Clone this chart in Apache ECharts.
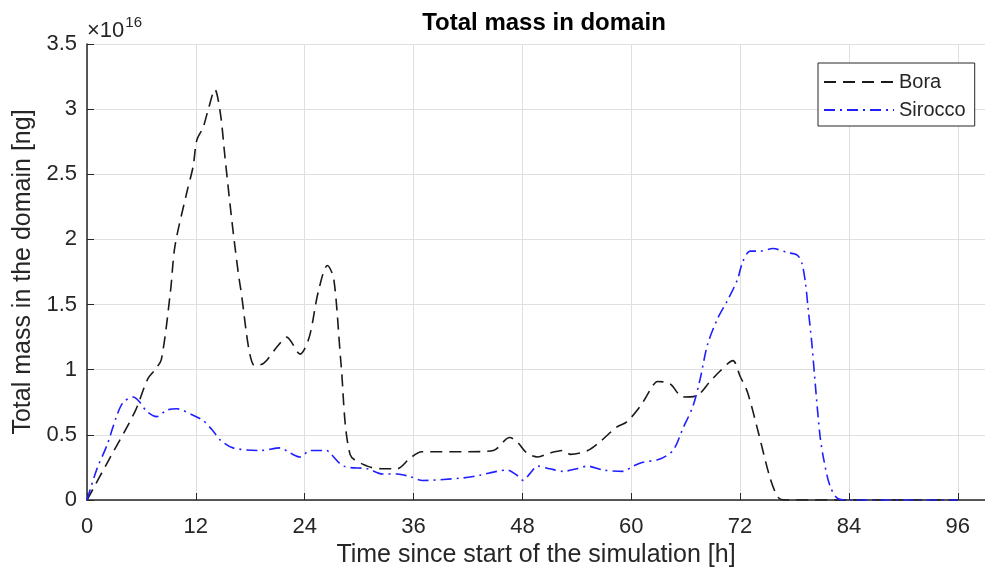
<!DOCTYPE html>
<html>
<head>
<meta charset="utf-8">
<script src="https://cdn.jsdelivr.net/npm/echarts@6/dist/echarts.min.js"></script>
<style>
  html, body { margin: 0; padding: 0; background: #fff; }
  #main { width: 985px; height: 573px; }
</style>
</head>
<body>
<div id="main"></div>
<script>
// time [h] and total mass [x1e16 ng]
var boraT = [0, 2.5, 5.3, 6.7, 7.5, 8.2, 9.2, 9.7, 11, 11.7, 12.1, 12.8, 13.3, 14.1, 14.7, 15.2, 15.8, 16.3, 16.9,
  18.5, 19.5, 21, 22, 23.5, 24.5, 25.5, 26.5, 27.2, 28, 29, 30.9, 32.5, 34.2, 35.6, 36.9, 40, 42, 44.8, 46.6, 47.5,
  48.5, 49.7, 51, 52.5, 53.3, 55.2, 56.6, 58.4, 59.5, 61, 62.4, 62.9, 64.3, 65.7, 67.2, 68.7, 69.8, 71.2, 72, 72.8,
  73.9, 75.3, 76.2, 77, 84, 90, 96];
var boraV = [0, 0.32, 0.68, 0.93, 1.0, 1.08, 1.6, 1.95, 2.36, 2.56, 2.76, 2.86, 2.98, 3.15, 2.97, 2.64, 2.25, 1.95, 1.64,
  1.03, 1.05, 1.18, 1.25, 1.12, 1.25, 1.6, 1.8, 1.7, 1.05, 0.35, 0.26, 0.24, 0.24, 0.32, 0.37, 0.37, 0.37, 0.38, 0.48, 0.44,
  0.36, 0.33, 0.36, 0.38, 0.35, 0.38, 0.45, 0.56, 0.6, 0.72, 0.88, 0.91, 0.89, 0.79, 0.8, 0.91, 0.99, 1.07, 0.95, 0.83,
  0.55, 0.17, 0.02, 0, 0, 0, 0];

var siroccoT = [0, 1.1, 2.2, 3.3, 4, 5.1, 5.7, 6.6, 7.7, 8.8, 9.9, 11.7, 12.8, 13.9, 14.7, 16.1, 19.1, 21.3, 22.4, 23.5,
  24.6, 26.4, 26.8, 28.3, 30.9, 32.6, 34.2, 35.6, 37, 41.5, 43.3, 45.2, 46.3, 47.4, 48.1, 48.8, 49.7, 51, 52.5, 54,
  55.2, 56.9, 59.1, 60.2, 61.3, 63, 64.6, 65.7, 66.8, 67.6, 68.4, 69.5, 70.6, 71.7, 72.3, 73.1, 74.2, 75.6, 77.2,
  78.3, 78.8, 79.2, 79.5, 79.9, 80.3, 80.8, 81.2, 81.9, 82.8, 84, 90, 96];
var siroccoV = [0, 0.24, 0.42, 0.65, 0.75, 0.79, 0.76, 0.68, 0.64, 0.69, 0.7, 0.65, 0.61, 0.53, 0.46, 0.4, 0.38, 0.4, 0.36, 0.33,
  0.38, 0.38, 0.36, 0.26, 0.24, 0.2, 0.2, 0.18, 0.15, 0.17, 0.19, 0.22, 0.23, 0.19, 0.15, 0.2, 0.26, 0.24, 0.22, 0.24,
  0.26, 0.23, 0.22, 0.26, 0.29, 0.31, 0.38, 0.55, 0.72, 0.93, 1.19, 1.39, 1.53, 1.69, 1.83, 1.91, 1.91, 1.93, 1.9,
  1.88, 1.82, 1.67, 1.47, 1.21, 0.88, 0.5, 0.32, 0.11, 0.01, 0, 0, 0];

function pairs(t, v) {
  var out = [];
  for (var i = 0; i < t.length; i++) out.push([t[i], v[i]]);
  return out;
}

var font = 'Liberation Sans, Arial, sans-serif';
var txt = '#262626';

var chart = echarts.init(document.getElementById('main'));

var option = {
  animation: false,
  title: {
    text: 'Total mass in domain',
    left: 539,
    top: 6,
    textAlign: 'center',
    textStyle: { fontFamily: font, fontSize: 24, fontWeight: 'bold', color: '#000' }
  },
  grid: { left: 87, right: 0, top: 44, bottom: 71 },
  legend: {
    orient: 'vertical',
    left: 818,
    top: 63,
    padding: [9, 9, 6, 5],
    itemGap: 8,
    itemWidth: 70,
    itemHeight: 14,
    borderColor: '#262626',
    borderWidth: 1,
    backgroundColor: '#fff',
    itemStyle: { opacity: 0 },
    textStyle: { fontFamily: font, fontSize: 20, color: txt },
    data: ['Bora', 'Sirocco']
  },
  xAxis: {
    type: 'value',
    min: 0,
    max: 99,
    interval: 12,
    name: 'Time since start of the simulation [h]',
    nameLocation: 'middle',
    nameGap: 43,
    nameTextStyle: { fontFamily: font, fontSize: 25, color: txt },
    axisLine: { lineStyle: { color: '#262626', width: 1.5 } },
    axisTick: { inside: true, length: 7, lineStyle: { color: '#262626' } },
    axisLabel: { fontFamily: font, fontSize: 22, color: txt, margin: 16, showMaxLabel: false },
    splitLine: { show: true, lineStyle: { color: '#dfdfdf', width: 1 } }
  },
  yAxis: {
    type: 'value',
    min: 0,
    max: 3.5,
    interval: 0.5,
    name: 'Total mass in the domain [ng]',
    nameLocation: 'middle',
    nameGap: 50,
    nameTextStyle: { fontFamily: font, fontSize: 25, color: txt },
    axisLine: { show: true, lineStyle: { color: '#262626', width: 1.5 } },
    axisTick: { show: true, inside: true, length: 7, lineStyle: { color: '#262626' } },
    axisLabel: { fontFamily: font, fontSize: 22, color: txt, margin: 10 },
    splitLine: { show: true, lineStyle: { color: '#dfdfdf', width: 1 } }
  },
  graphic: [{
    type: 'text',
    left: 87,
    top: 15,
    style: {
      text: '{a|\u00d710}{b|16}',
      rich: {
        a: { fontFamily: font, fontSize: 22, fill: txt, padding: [9, 1, 0, 0] },
        b: { fontFamily: font, fontSize: 15, fill: txt, padding: [0, 0, 7, 0] }
      }
    }
  }],
  series: [
    {
      name: 'Bora',
      type: 'line',
      symbol: 'none',
      smooth: 0.3,
      data: pairs(boraT, boraV),
      color: '#1a1a1a',
      lineStyle: { color: '#1a1a1a', width: 1.6, type: [12, 7] }
    },
    {
      name: 'Sirocco',
      type: 'line',
      symbol: 'none',
      smooth: 0.3,
      data: pairs(siroccoT, siroccoV),
      color: '#1f1fff',
      lineStyle: { color: '#1f1fff', width: 1.6, type: [11, 5, 2, 5] }
    }
  ]
};

chart.setOption(option);
</script>
</body>
</html>
